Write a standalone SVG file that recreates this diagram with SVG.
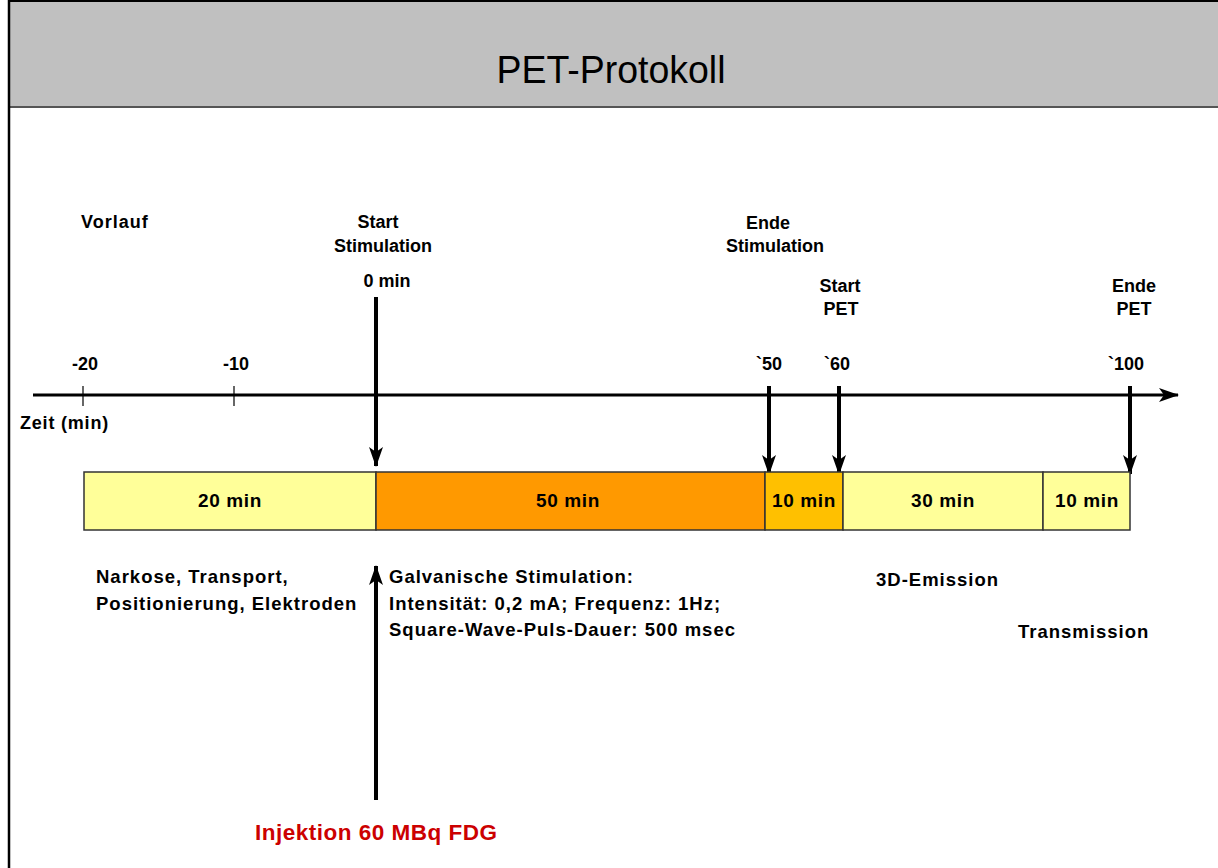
<svg xmlns="http://www.w3.org/2000/svg" width="1218" height="868" viewBox="0 0 1218 868">
<style>
.t{font-family:"Liberation Sans",Arial,sans-serif;font-weight:bold;font-size:18px;fill:#000}
.c{text-anchor:middle}
.b{font-size:19px;letter-spacing:0.6px}
.n{font-size:18.5px;letter-spacing:1px}
.ln{stroke:#000;fill:none}
.bar{stroke:#333;stroke-width:1.5}
</style>
<defs>
<marker id="ah" viewBox="0 0 20 14" refX="19" refY="7" markerWidth="20" markerHeight="14" markerUnits="userSpaceOnUse" orient="auto">
<path d="M0,0 L20,7 L0,14 L5,7 Z" fill="#000"/>
</marker>
</defs>
<rect x="0" y="0" width="1218" height="868" fill="#fff"/>
<g id="header">
<rect x="9" y="1" width="1212" height="106" fill="#c0c0c0" stroke="#000" stroke-width="2"/>
<line x1="9" y1="107" x2="1218" y2="107" stroke="#555" stroke-width="2"/>
<line x1="9" y1="0" x2="9" y2="868" stroke="#000" stroke-width="2.5"/>
<text x="611" y="83" font-family="'Liberation Sans',Arial,sans-serif" font-size="39" text-anchor="middle" textLength="229" lengthAdjust="spacingAndGlyphs">PET-Protokoll</text>
</g>
<g id="labels-top">
<text class="t" x="81" y="228" style="letter-spacing:1px">Vorlauf</text>
<text class="t c" x="378" y="228">Start</text>
<text class="t c" x="383" y="252">Stimulation</text>
<text class="t c" x="387" y="287">0 min</text>
<text class="t c" x="768" y="229">Ende</text>
<text class="t c" x="775" y="252">Stimulation</text>
<text class="t c" x="840" y="292">Start</text>
<text class="t c" x="841" y="315">PET</text>
<text class="t c" x="1134" y="292">Ende</text>
<text class="t c" x="1134" y="315">PET</text>
</g>
<g id="axis-labels">
<text class="t c" x="85" y="370">-20</text>
<text class="t c" x="236" y="370">-10</text>
<text class="t c" x="769" y="370">`50</text>
<text class="t c" x="837" y="370">`60</text>
<text class="t c" x="1126" y="370">`100</text>
<text class="t" x="20" y="429" style="letter-spacing:0.8px">Zeit (min)</text>
</g>
<g id="connectors">
<line class="ln" x1="33" y1="395" x2="1178" y2="395" stroke-width="3" marker-end="url(#ah)"/>
<line class="ln" x1="83" y1="386" x2="83" y2="406" stroke-width="1.2"/>
<line class="ln" x1="234" y1="386" x2="234" y2="406" stroke-width="1.2"/>
<line class="ln" x1="376" y1="297" x2="376" y2="466" stroke-width="4" marker-end="url(#ah)"/>
<line class="ln" x1="769" y1="386" x2="769" y2="474" stroke-width="4" marker-end="url(#ah)"/>
<line class="ln" x1="839" y1="386" x2="839" y2="474" stroke-width="4" marker-end="url(#ah)"/>
<line class="ln" x1="1130" y1="386" x2="1130" y2="474" stroke-width="4" marker-end="url(#ah)"/>
<line class="ln" x1="376" y1="800" x2="376" y2="566" stroke-width="4" marker-end="url(#ah)"/>
</g>
<g id="seg-20">
<rect class="bar" x="84" y="472" width="292" height="58" fill="#ffff99"/>
<text class="t c b" x="230" y="507">20 min</text>
</g>
<g id="seg-50">
<rect class="bar" x="376" y="472" width="389" height="58" fill="#ff9900"/>
<text class="t c b" x="568" y="507">50 min</text>
</g>
<g id="seg-10a">
<rect class="bar" x="765" y="472" width="78" height="58" fill="#ffc000"/>
<text class="t c b" x="804" y="507">10 min</text>
</g>
<g id="seg-30">
<rect class="bar" x="843" y="472" width="200" height="58" fill="#ffff99"/>
<text class="t c b" x="943" y="507">30 min</text>
</g>
<g id="seg-10b">
<rect class="bar" x="1043" y="472" width="87" height="58" fill="#ffff99"/>
<text class="t c b" x="1087" y="507">10 min</text>
</g>
<g id="notes">
<text class="t n" x="96" y="583">Narkose, Transport,</text>
<text class="t n" x="96" y="610">Positionierung, Elektroden</text>
<text class="t n" x="389" y="583">Galvanische Stimulation:</text>
<text class="t n" x="389" y="610">Intensität: 0,2 mA; Frequenz: 1Hz;</text>
<text class="t n" x="389" y="636">Square-Wave-Puls-Dauer: 500 msec</text>
<text class="t n" x="876" y="586">3D-Emission</text>
<text class="t n" x="1018" y="638">Transmission</text>
</g>
<g id="injection">
<text x="255" y="840" font-family="'Liberation Sans',Arial,sans-serif" font-weight="bold" font-size="22.5" letter-spacing="0.5" fill="#cc0000">Injektion 60 MBq FDG</text>
</g>
</svg>
